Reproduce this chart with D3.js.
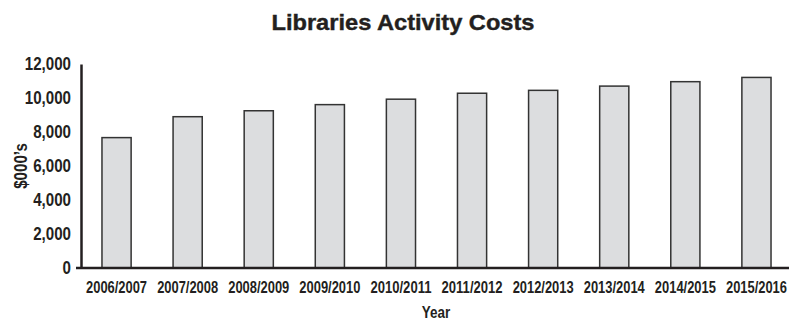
<!DOCTYPE html>
<html>
<head>
<meta charset="utf-8">
<script src="https://cdn.jsdelivr.net/npm/d3@7"></script>
<style>
  body { margin: 0; background: #fff; }
  svg { display: block; }
  text { font-family: "Liberation Sans", Arial, sans-serif; font-weight: bold; }
</style>
</head>
<body>
<div id="chart"></div>
<script>
const years = ['2006/2007', '2007/2008', '2008/2009', '2009/2010', '2010/2011',
  '2011/2012', '2012/2013', '2013/2014', '2014/2015', '2015/2016']
const costs = [7670, 8900, 9250, 9610, 9930, 10280, 10450, 10700, 10960, 11210]
const yTicks = [0, 2000, 4000, 6000, 8000, 10000, 12000]

const width = 789
const height = 321
const plotLeft = 81
const plotTop = 64
const plotBottom = 268

// squeeze text horizontally, no narrow font installed
function condense (sel, f) {
  sel.each(function () {
    const w = this.getComputedTextLength()
    d3.select(this).attr('textLength', w * f).attr('lengthAdjust', 'spacingAndGlyphs')
  })
}

const svg = d3.select('#chart')
  .append('svg')
  .attr('width', width)
  .attr('height', height)

const x = d3.scaleBand()
  .domain(years)
  .range([plotLeft, plotLeft + 711])
  .paddingInner(0.59)
  .paddingOuter(0.295)

const y = d3.scaleLinear()
  .domain([0, 12000])
  .range([plotBottom, plotTop])

// title
svg.append('text')
  .attr('x', 403)
  .attr('y', 30)
  .attr('text-anchor', 'middle')
  .style('font-size', '22px')
  .attr('fill', '#231f20')
  .attr('stroke', '#231f20')
  .attr('stroke-width', 0.4)
  .attr('textLength', 263)
  .attr('lengthAdjust', 'spacingAndGlyphs')
  .text('Libraries Activity Costs')

// bars
svg.append('g')
  .selectAll('rect')
  .data(costs)
  .join('rect')
  .attr('x', (d, i) => x(years[i]))
  .attr('y', d => y(d))
  .attr('width', x.bandwidth())
  .attr('height', d => y(0) - y(d))
  .attr('fill', '#dcdddf')
  .attr('stroke', '#333')
  .attr('stroke-width', 1.5)

// y axis
const yAxis = svg.append('g')
  .attr('transform', `translate(${plotLeft},0)`)
  .call(d3.axisLeft(y).tickValues(yTicks).tickFormat(d3.format(',')).tickSize(0).tickPadding(10))
yAxis.attr('font-family', null)
yAxis.select('.domain').attr('stroke', '#231f20').attr('stroke-width', 2.5)
yAxis.selectAll('text')
  .style('font-size', '18px')
  .attr('fill', '#231f20')
  .call(condense, 0.84)

// x axis
const xAxis = svg.append('g')
  .attr('transform', `translate(0,${plotBottom})`)
  .call(d3.axisBottom(x).tickSize(0).tickPadding(14))
xAxis.attr('font-family', null)
xAxis.select('.domain').attr('d', `M${plotLeft - 5},0H${width}`)
  .attr('stroke', '#231f20').attr('stroke-width', 2.5)
xAxis.selectAll('text')
  .style('font-size', '16px')
  .attr('fill', '#231f20')
  .attr('textLength', 61)
  .attr('lengthAdjust', 'spacingAndGlyphs')

// axis titles
svg.append('text')
  .attr('transform', 'translate(27,166) rotate(-90)')
  .attr('text-anchor', 'middle')
  .style('font-size', '18px')
  .attr('fill', '#231f20')
  .text('$000\u2019s')
  .call(condense, 0.84)

svg.append('text')
  .attr('x', 436)
  .attr('y', 318)
  .attr('text-anchor', 'middle')
  .style('font-size', '16px')
  .attr('fill', '#231f20')
  .text('Year')
  .call(condense, 0.84)
</script>
</body>
</html>
